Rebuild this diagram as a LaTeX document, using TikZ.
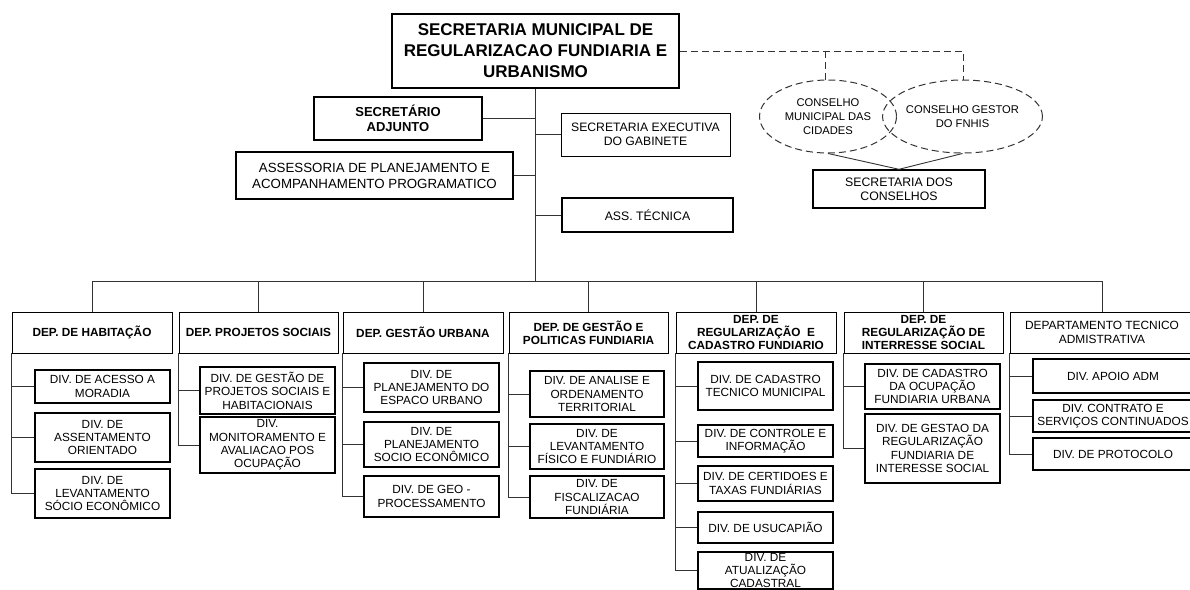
\documentclass[tikz,border=0pt]{standalone}
\usepackage{fontspec}
\setmainfont{Liberation Sans}
\usetikzlibrary{shapes.geometric}
\newcommand\ob[7]{%
  \pgfmathsetmacro\obw{#4-#2}\pgfmathsetmacro\obh{#5-#3}%
  \node[#6, minimum width=\obw pt, minimum height=\obh pt] (#1) at ({(#2+#4)/2},{(#3+#5)/2}) {#7};}
\definecolor{lnc}{HTML}{333333}
\tikzset{
  base/.style={draw, inner sep=0pt, align=center},
  div/.style={base, line width=1.6pt, font=\fontsize{11.8}{13.4}\selectfont},
  dep/.style={base, line width=0.8pt, font=\bfseries\fontsize{11.8}{13.3}\selectfont},
  depr/.style={base, line width=0.8pt, font=\fontsize{11.9}{13.5}\selectfont},
  topbox/.style={base, line width=1.8pt, font=\bfseries\fontsize{17}{21}\selectfont},
  adj/.style={base, line width=1.4pt, font=\bfseries\fontsize{13}{15}\selectfont},
  asse/.style={base, line width=1.4pt, font=\fontsize{13.3}{16}\selectfont},
  sec/.style={base, line width=1.0pt, font=\fontsize{12.2}{14}\selectfont},
  secb/.style={base, line width=1.4pt, font=\fontsize{12.3}{14}\selectfont},
  cons/.style={draw=lnc, dash pattern=on 7pt off 4pt, line width=1.0pt, ellipse, inner sep=0pt, align=center, font=\fontsize{11.2}{14}\selectfont},
  conn/.style={draw=lnc, line width=0.9pt},
  dconn/.style={draw=lnc, line width=1.0pt, dash pattern=on 7pt off 4pt},
}
\begin{document}
\begin{tikzpicture}[x=1pt,y=-1pt]
\fill[white] (0,0) rectangle (1190,589);
\useasboundingbox (0,0) rectangle (1190,589);
\clip (0,0) rectangle (1190,589);

% top
\ob{top}{392}{14}{679}{88}{topbox}{SECRETARIA MUNICIPAL DE\\REGULARIZACAO FUNDIARIA E\\URBANISMO}
\ob{adj}{314}{97}{482}{140}{adj}{SECRETÁRIO\\ADJUNTO}
\ob{exe}{561}{113}{730}{156}{sec}{SECRETARIA EXECUTIVA\\DO GABINETE}
\ob{ass}{236}{152}{513}{199}{asse}{ASSESSORIA DE PLANEJAMENTO E\\ACOMPANHAMENTO PROGRAMATICO}
\ob{tec}{562}{198}{733}{232}{secb}{ASS. TÉCNICA}

% councils
\node[cons, minimum width=137pt, minimum height=73pt] (ell1) at (828,116.5) {CONSELHO\\MUNICIPAL DAS\\CIDADES};
\node[cons, minimum width=131pt, minimum height=73pt] (ell2) at (962.5,116.5) {CONSELHO GESTOR\\DO FNHIS};
\ob{sc}{813}{170}{985}{208}{secb}{SECRETARIA DOS\\CONSELHOS}
\coordinate (c1) at (825,51);
\coordinate (c2) at (963,51);
\draw[dconn] (top.east) -- (c2) -- (c2 |- ell2.north);
\draw[dconn] (c1) -- (c1 |- ell1.north);
\draw[conn] (ell1.south) -- (sc.north) -- (ell2.south);

% main connectors
\coordinate (bus) at (535,281);
\draw[conn] (top.south) -- (top.south |- bus);
\draw[conn] (adj.east) -- (adj.east -| top.south);
\draw[conn] (exe.west) -- (exe.west -| top.south);
\draw[conn] (ass.east) -- (ass.east -| top.south);
\draw[conn] (tec.west) -- (tec.west -| top.south);

% departments
\ob{d1}{12}{312}{172}{353}{dep}{DEP. DE HABITAÇÃO}
\ob{d2}{179}{312}{338}{353}{dep}{DEP. PROJETOS SOCIAIS}
\ob{d3}{343}{312}{503}{353}{dep}{DEP. GESTÃO URBANA}
\ob{d4}{509}{312}{668}{353}{dep}{DEP. DE GESTÃO E\\POLITICAS FUNDIARIA}
\ob{d5}{676}{312}{836}{353}{dep}{DEP. DE\\REGULARIZAÇÃO \ E\\CADASTRO FUNDIARIO}
\ob{d6}{844}{312}{1003}{353}{dep}{DEP. DE\\REGULARIZAÇÃO DE\\INTERRESSE SOCIAL}
\ob{d7}{1010}{312}{1194}{353}{depr}{DEPARTAMENTO TECNICO\\ADMISTRATIVA}
\draw[conn] (d1.north |- bus) -- (d7.north |- bus);
\foreach \d in {d1,d2,d3,d4,d5,d6,d7} \draw[conn] (\d.north) -- (\d.north |- bus);

% divisions dep1
\ob{d1a}{35}{370}{170}{403}{div}{DIV. DE ACESSO A\\MORADIA}
\ob{d1b}{35}{413}{170}{462}{div}{DIV. DE\\ASSENTAMENTO\\ORIENTADO}
\ob{d1c}{35}{469}{170}{518}{div}{DIV. DE\\LEVANTAMENTO\\SÓCIO ECONÔMICO}
\draw[conn] (d1.south west) |- (d1c.west);
\draw[conn] (d1a.west -| d1.south west) -- (d1a.west);
\draw[conn] (d1b.west -| d1.south west) -- (d1b.west);

% dep2
\ob{d2a}{200}{367}{335}{414}{div}{DIV. DE GESTÃO DE\\PROJETOS SOCIAIS E\\HABITACIONAIS}
\ob{d2b}{200}{417}{335}{473}{div}{DIV.\\MONITORAMENTO E\\AVALIACAO POS\\OCUPAÇÃO}
\draw[conn] (d2.south west) |- (d2b.west);
\draw[conn] (d2a.west -| d2.south west) -- (d2a.west);

% dep3
\ob{d3a}{364}{363}{499}{412}{div}{DIV. DE\\PLANEJAMENTO DO\\ESPACO URBANO}
\ob{d3b}{364}{422}{499}{467}{div}{DIV. DE\\PLANEJAMENTO\\SOCIO ECONÔMICO}
\ob{d3c}{364}{476}{499}{517}{div}{DIV. DE GEO -\\PROCESSAMENTO}
\draw[conn] (d3.south west) |- (d3c.west);
\draw[conn] (d3a.west -| d3.south west) -- (d3a.west);
\draw[conn] (d3b.west -| d3.south west) -- (d3b.west);

% dep4
\ob{d4a}{530}{371}{664}{417}{div}{DIV. DE ANALISE E\\ORDENAMENTO\\TERRITORIAL}
\ob{d4b}{530}{424}{664}{469}{div}{DIV. DE\\LEVANTAMENTO\\FÍSICO E FUNDIÁRIO}
\ob{d4c}{530}{476}{664}{518}{div}{DIV. DE\\FISCALIZACAO\\FUNDIÁRIA}
\draw[conn] (d4.south west) |- (d4c.west);
\draw[conn] (d4a.west -| d4.south west) -- (d4a.west);
\draw[conn] (d4b.west -| d4.south west) -- (d4b.west);

% dep5
\ob{d5a}{698}{362}{833}{410}{div}{DIV. DE CADASTRO\\TECNICO MUNICIPAL}
\ob{d5b}{698}{425}{833}{457}{div}{DIV. DE CONTROLE E\\INFORMAÇÃO}
\ob{d5c}{698}{466}{833}{501}{div}{DIV. DE CERTIDOES E\\TAXAS FUNDIÁRIAS}
\ob{d5d}{698}{512}{833}{543}{div}{DIV. DE USUCAPIÃO}
\ob{d5e}{698}{552}{833}{589}{div, font=\fontsize{11.8}{13}\selectfont}{DIV. DE\\ATUALIZAÇÃO\\CADASTRAL}
\draw[conn] (d5.south west) |- (d5e.west);
\foreach \q in {d5a,d5b,d5c,d5d} \draw[conn] (\q.west -| d5.south west) -- (\q.west);

% dep6
\ob{d6a}{865}{364}{1000}{409}{div}{DIV. DE CADASTRO\\DA OCUPAÇÃO\\FUNDIARIA URBANA}
\ob{d6b}{865}{414}{1000}{483}{div}{DIV. DE GESTAO DA\\REGULARIZAÇÃO\\FUNDIARIA DE\\INTERESSE SOCIAL}
\draw[conn] (d6.south west) |- (d6b.west);
\draw[conn] (d6a.west -| d6.south west) -- (d6a.west);

% dep7
\ob{d7a}{1033}{359}{1193}{393}{div}{DIV. APOIO ADM}
\ob{d7b}{1033}{400}{1193}{432}{div}{DIV. CONTRATO E\\SERVIÇOS CONTINUADOS}
\ob{d7c}{1033}{438}{1193}{470}{div}{DIV. DE PROTOCOLO}
\draw[conn] (d7.south west) |- (d7c.west);
\draw[conn] (d7a.west -| d7.south west) -- (d7a.west);
\draw[conn] (d7b.west -| d7.south west) -- (d7b.west);
\end{tikzpicture}
\end{document}
